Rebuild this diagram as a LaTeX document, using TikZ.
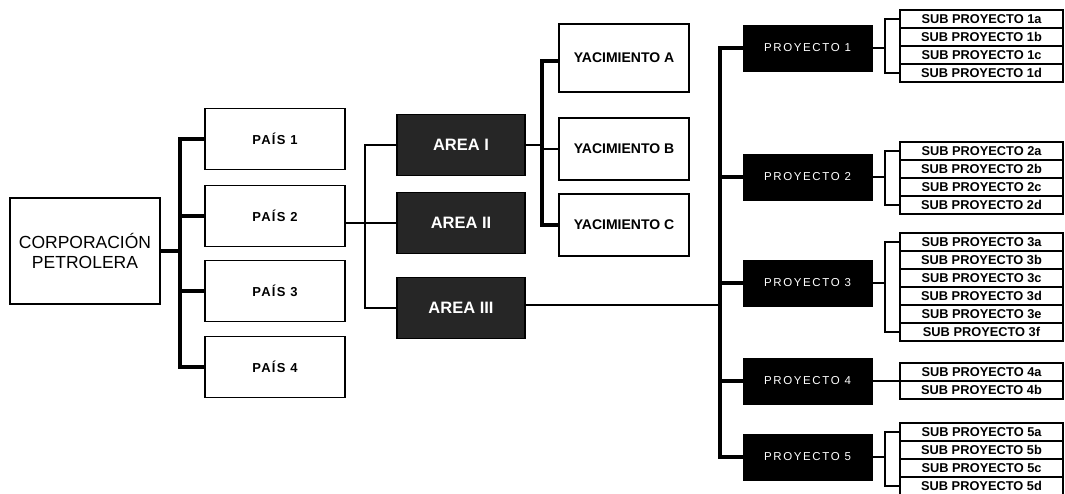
\documentclass[tikz,border=0pt]{standalone}
\usepackage{fontspec}
\setmainfont{Liberation Sans}
\newfontfamily\paisfont[LetterSpace=10]{Liberation Sans}
\newfontfamily\proyfont[LetterSpace=14]{Liberation Sans}
\begin{document}
\begin{tikzpicture}[x=1pt,y=-1pt,
  box/.style={draw, line width=1.5pt, fill=white, inner sep=0pt},
  corpbox/.style={box, minimum width=150pt, minimum height=106pt, align=center, font=\fontsize{17.5}{20}\selectfont},
  paisbox/.style={box, minimum width=140pt, minimum height=61pt, font=\paisfont\bfseries\fontsize{13}{15}\selectfont},
  areabox/.style={draw=black, line width=1.5pt, fill=black!85, text=white, inner sep=0pt, minimum width=128pt, minimum height=61pt, font=\bfseries\fontsize{16.5}{19}\selectfont},
  yacbox/.style={box, minimum width=130pt, minimum height=62pt, font=\bfseries\fontsize{14}{16}\selectfont},
  proybox/.style={draw=black, fill=black, text=white, inner sep=0pt, minimum width=129pt, minimum height=46pt, font=\proyfont\fontsize{11.5}{13}\selectfont},
  subbox/.style={draw, line width=1.2pt, fill=white, inner sep=0pt, minimum width=163pt, minimum height=18pt, font=\bfseries\fontsize{12.8}{14}\selectfont},
  mainline/.style={line width=3.2pt},
  thinline/.style={line width=1.8pt},
  brline/.style={line width=2.4pt}
]
\useasboundingbox (0,0) rectangle (1065,493);

% nodes
\node[corpbox] (corp) at (85,251) {CORPORACIÓN\\PETROLERA};
\node[paisbox] (p1) at (275,139) {PAÍS 1};
\node[paisbox] (p2) at (275,216) {PAÍS 2};
\node[paisbox] (p3) at (275,291) {PAÍS 3};
\node[paisbox] (p4) at (275,367) {PAÍS 4};

\node[areabox] (a1) at (461,145) {AREA I};
\node[areabox] (a2) at (461,223) {AREA II};
\node[areabox] (a3) at (461,308) {AREA III};

\node[yacbox, minimum height=68pt] (yA) at (624,58) {YACIMIENTO A};
\node[yacbox] (yB) at (624,149) {YACIMIENTO B};
\node[yacbox] (yC) at (624,225) {YACIMIENTO C};

\node[proybox] (pr1) at (807.5,48) {PROYECTO 1};
\node[proybox] (pr2) at (807.5,177) {PROYECTO 2};
\node[proybox] (pr3) at (807.5,283) {PROYECTO 3};
\node[proybox] (pr4) at (807.5,381) {PROYECTO 4};
\node[proybox] (pr5) at (807.5,457) {PROYECTO 5};

\foreach \p/\tp/\ls in {1/10/{a,b,c,d}, 2/142/{a,b,c,d}, 3/233/{a,b,c,d,e,f}, 4/363/{a,b}, 5/423/{a,b,c,d}} {
  \foreach \l [count=\i from 0] in \ls {
    \node[subbox] (s\p\l) at (981.5,\tp+9+18*\i) {SUB PROYECTO \p\l};
  }
}

% trunk coordinates
\coordinate (t1) at (180,0);
\coordinate (t2) at (365,0);
\coordinate (t3) at (542,0);
\coordinate (t4) at (720,0);
\coordinate (br) at (885,0);

% corporation -> countries
\draw[mainline] (corp.east) -- (corp.east -| t1);
\draw[mainline] (p1.west) -- (p1.west -| t1) -- (p4.west -| t1) -- (p4.west);
\draw[mainline] (p2.west -| t1) -- (p2.west);
\draw[mainline] (p3.west -| t1) -- (p3.west);

% country 2 -> areas
\draw[thinline] (p2.east |- a2.west) -- (a2.west);
\draw[thinline] (a1.west) -- (a1.west -| t2) -- (a3.west -| t2) -- (a3.west);

% area I -> yacimientos
\draw[thinline] (a1.east) -- (a1.east -| t3);
\draw[mainline] (yA.west |- 0,61) -- (t3 |- 0,61) -- (yC.west -| t3) -- (yC.west);
\draw[thinline] (yB.west -| t3) -- (yB.west);

% area III -> proyectos
\draw[thinline] (a3.east |- 0,305) -- (t4 |- 0,305);
\draw[mainline] (pr1.west) -- (pr1.west -| t4) -- (pr5.west -| t4) -- (pr5.west);
\draw[mainline] (pr2.west -| t4) -- (pr2.west);
\draw[mainline] (pr3.west -| t4) -- (pr3.west);
\draw[mainline] (pr4.west -| t4) -- (pr4.west);

% proyectos -> subproyectos
\foreach \p/\f/\g in {1/a/d, 2/a/d, 3/a/f, 5/a/d} {
  \draw[brline] (pr\p.east) -- (pr\p.east -| br);
  \draw[brline] (s\p\f.west) -- (s\p\f.west -| br) -- (s\p\g.west -| br) -- (s\p\g.west);
}
\draw[brline] (pr4.east) -- (pr4.east -| s4a.south west);
\end{tikzpicture}
\end{document}
